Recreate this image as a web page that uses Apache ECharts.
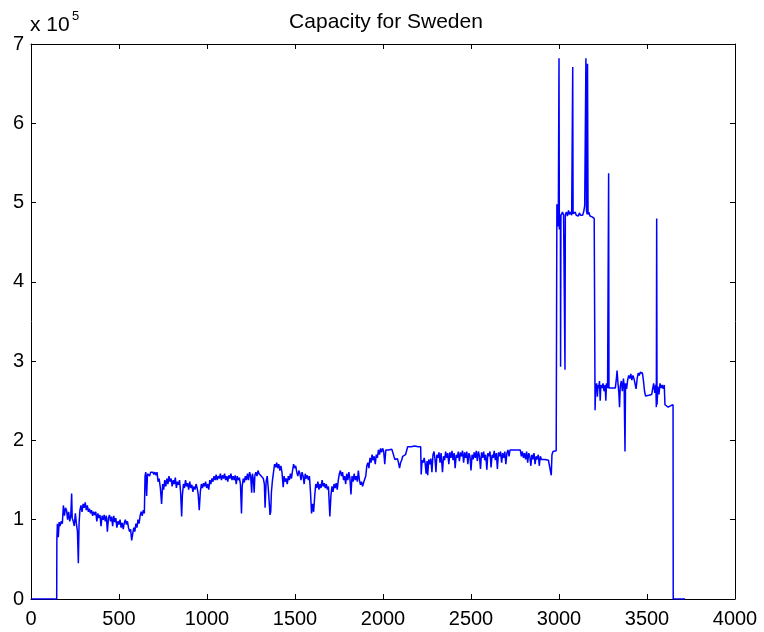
<!DOCTYPE html>
<html>
<head>
<meta charset="utf-8">
<title>Capacity for Sweden</title>
<script src="https://cdn.jsdelivr.net/npm/echarts@6/dist/echarts.min.js"></script>
<style>
  html, body { margin: 0; padding: 0; background: #ffffff; }
  #chart { width: 764px; height: 632px; }
</style>
</head>
<body>
<div id="chart"></div>
<script>
// Capacity samples, values in units of 10^5, as [sample index, capacity] pairs.
const rampUp = [
  [1,0],[146,0],[147,0.75],[150,0.95],[155,0.78],[160,0.97],[165,0.92],[172,0.98],[178,0.95],[184,1.18],
  [190,1.05],[196,1.15],[202,1.12],[208,1.0],[214,1.1],[220,0.98],[226,1.05],[231,1.33],[234,1.02],[240,0.98],
  [246,0.92],[252,1.08],[258,0.95],[264,0.85],[269,0.45],[273,0.95],[278,1.12],[284,1.18],[290,1.1],[296,1.2],
  [302,1.15],[308,1.22],[314,1.12],[320,1.18],[326,1.1],[332,1.14],[338,1.08],[344,1.12],[350,1.05],[356,1.1],
  [362,1.06],[368,1.1],[374,0.98],[380,1.08],[386,1.02],[392,1.06],[398,0.92],[404,1.05],[410,1.0],[416,1.06],
  [422,0.98],[428,1.05],[434,0.85],[440,1.02],[446,1.06],[452,0.98],[458,1.04],[464,0.92],[470,1.05],[476,0.97],
  [482,1.02],[488,0.9],[494,0.98],[500,0.94],[506,1.0],[512,0.9],[518,0.96],[524,0.88],[530,0.96],[536,1.0],
  [542,0.94],[548,0.98],[554,0.9],[560,0.85],[566,0.88],[572,0.74],[578,0.82],[584,0.9],[590,0.85],[596,0.95],
  [602,0.9],[608,1.0],[614,0.95],[620,1.05],[626,1.1],[632,1.05],[638,1.12],[644,1.08]
];

const steadyGrowth = [
  [648,1.55],[652,1.6],[657,1.3],[662,1.58],[668,1.6],[674,1.55],[680,1.6],[686,1.58],[692,1.6],[698,1.57],
  [704,1.6],[710,1.56],[716,1.6],[722,1.48],[728,1.52],[735,1.4],[742,1.2],[748,1.45],[754,1.38],[760,1.5],
  [766,1.42],[772,1.52],[778,1.45],[784,1.55],[790,1.48],[796,1.52],[802,1.42],[808,1.5],[814,1.45],[820,1.53],
  [826,1.4],[832,1.48],[838,1.44],[844,1.5],[850,1.35],[856,1.04],[860,1.3],[866,1.45],[872,1.4],[878,1.5],
  [884,1.42],[890,1.46],[896,1.38],[902,1.48],[908,1.4],[914,1.44],[920,1.35],[926,1.42],[932,1.38],[938,1.45],
  [944,1.4],[950,1.32],[956,1.12],[962,1.35],[968,1.45],[974,1.4],[980,1.46],[986,1.42],[992,1.48],[998,1.4],
  [1004,1.45],[1010,1.38],[1016,1.5],[1022,1.45],[1028,1.52],[1034,1.48],[1040,1.55],[1046,1.5],[1052,1.57],[1058,1.5],
  [1064,1.55],[1070,1.52],[1076,1.58],[1082,1.5],[1088,1.56],[1094,1.52],[1100,1.58],[1106,1.5],[1112,1.55],[1118,1.48],
  [1124,1.56],[1130,1.52],[1136,1.58],[1142,1.5],[1148,1.55],[1154,1.5],[1160,1.56],[1166,1.45],[1172,1.55],[1178,1.5],
  [1184,1.53],[1190,1.45],[1196,1.08],[1200,1.42],[1206,1.52],[1212,1.47],[1218,1.55],[1224,1.5],[1230,1.58],[1236,1.5],
  [1242,1.6],[1248,1.55],[1254,1.34],[1258,1.58],[1264,1.5],[1268,1.34],[1272,1.56],[1278,1.6],[1284,1.55],[1290,1.62],
  [1296,1.58],[1302,1.6],[1308,1.55],[1314,1.57],[1320,1.52],[1326,1.45],[1330,1.15],[1336,1.48],[1342,1.55],[1348,1.4],
  [1354,1.2],[1358,1.06],[1362,1.1],[1366,1.35],[1372,1.5],[1378,1.6],[1384,1.7],[1390,1.66],[1396,1.72],[1402,1.65],
  [1408,1.7],[1414,1.62],[1420,1.68],[1426,1.6],[1433,1.41],[1438,1.55],[1444,1.48],[1450,1.52],[1456,1.45],[1462,1.55],
  [1468,1.5],[1474,1.58],[1480,1.52],[1486,1.62],[1492,1.7],[1498,1.65],[1504,1.68],[1510,1.6],[1516,1.55],[1522,1.62],
  [1528,1.58],[1534,1.5],[1540,1.6],[1546,1.55],[1552,1.45],[1558,1.58],[1564,1.52],[1570,1.56],[1576,1.5],[1582,1.55],
  [1588,1.35],[1594,1.08],[1600,1.2],[1606,1.1],[1612,1.3],[1618,1.45],[1624,1.4],[1630,1.48],[1636,1.38],[1642,1.45],
  [1648,1.4],[1654,1.5],[1660,1.42],[1666,1.46],[1672,1.4],[1678,1.45],[1684,1.38],[1690,1.42],[1698,1.04],[1704,1.3],
  [1710,1.42],[1716,1.35],[1722,1.45],[1728,1.4],[1734,1.46],[1740,1.38],[1746,1.5],[1752,1.58],[1758,1.62],[1764,1.55],
  [1770,1.6],[1776,1.5],[1782,1.55],[1788,1.45],[1794,1.58],[1800,1.5],[1806,1.6],[1812,1.52],[1818,1.32],[1824,1.55],
  [1830,1.48],[1836,1.58],[1842,1.5],[1848,1.55],[1854,1.48],[1860,1.62],[1866,1.5],[1872,1.44],[1878,1.48],[1884,1.42],
  [1890,1.47],[1896,1.45],[1902,1.55],[1908,1.68],[1914,1.72],[1920,1.65],[1926,1.78],[1932,1.72],[1938,1.82],[1944,1.75],
  [1950,1.8],[1956,1.7],[1962,1.82],[1968,1.78],[1974,1.88],[1980,1.82],[1986,1.9],[1992,1.85],[1998,1.9],[2004,1.86],
  [2010,1.7],[2016,1.88],[2022,1.9],[2030,1.88],[2040,1.9],[2050,1.89],[2058,1.9],[2062,1.8],[2068,1.76],[2076,1.75],
  [2082,1.77],[2088,1.72],[2094,1.65],[2100,1.72],[2106,1.75],[2112,1.8],[2120,1.78],[2128,1.82],[2134,1.8],[2140,1.92],
  [2160,1.92],[2180,1.93],[2200,1.92],[2214,1.92]
];

const plateau = [
  [2217,1.57],[2222,1.75],[2228,1.72],[2234,1.78],[2240,1.7],[2245,1.58],[2250,1.74],[2254,1.56],[2260,1.76],[2266,1.7],
  [2272,1.77],[2278,1.6],[2284,1.82],[2290,1.86],[2296,1.75],[2301,1.6],[2306,1.82],[2312,1.78],[2318,1.85],[2324,1.72],
  [2330,1.84],[2338,1.6],[2344,1.8],[2350,1.75],[2356,1.86],[2362,1.78],[2368,1.84],[2374,1.7],[2380,1.85],[2386,1.78],
  [2392,1.87],[2398,1.75],[2404,1.84],[2410,1.65],[2416,1.82],[2422,1.78],[2428,1.86],[2434,1.74],[2440,1.85],[2446,1.8],
  [2452,1.87],[2458,1.72],[2464,1.85],[2470,1.78],[2476,1.86],[2482,1.7],[2488,1.84],[2494,1.8],[2500,1.62],[2506,1.82],
  [2512,1.76],[2518,1.85],[2524,1.78],[2530,1.87],[2536,1.74],[2542,1.86],[2548,1.8],[2554,1.64],[2560,1.85],[2566,1.78],
  [2572,1.86],[2578,1.75],[2584,1.82],[2590,1.63],[2596,1.84],[2602,1.8],[2608,1.86],[2614,1.66],[2620,1.82],[2626,1.78],
  [2632,1.87],[2638,1.75],[2644,1.84],[2650,1.64],[2656,1.85],[2662,1.8],[2668,1.86],[2674,1.72],[2680,1.84],[2686,1.78],
  [2692,1.86],[2698,1.7],[2704,1.84],[2710,1.88],[2716,1.8],[2722,1.88],[2730,1.86],[2740,1.88],[2750,1.87],[2760,1.88],
  [2770,1.86],[2780,1.88],[2786,1.8],[2792,1.86],[2798,1.78],[2804,1.84],[2810,1.76],[2816,1.86],[2822,1.72],[2828,1.84],
  [2834,1.8],[2840,1.68],[2846,1.82],[2852,1.76],[2858,1.84],[2864,1.7],[2870,1.8],[2876,1.76],[2882,1.82],[2888,1.68],
  [2894,1.8],[2900,1.76],[2910,1.75],[2920,1.76],[2930,1.74],[2940,1.75],[2950,1.73],[2956,1.56],[2960,1.82],[2966,1.86],
  [2976,1.86],[2984,1.87]
];

const upgradedLink = [
  [2988,4.98],[2992,4.96],[2996,4.7],[3000,6.82],[3002,4.66],[3005,4.85],[3008,4.78],[3009,2.93],[3011,4.84],[3016,4.82],
  [3020,4.88],[3026,4.84],[3030,4.86],[3034,2.89],[3036,4.85],[3042,4.88],[3048,4.83],[3054,4.9],[3060,4.85],[3066,4.88],
  [3072,4.84],[3078,6.71],[3080,4.86],[3086,4.85],[3092,4.88],[3098,4.84],[3104,4.86],[3110,4.83],[3116,4.87],[3122,4.84],
  [3128,4.86],[3134,4.84],[3140,4.88],[3146,4.96],[3150,4.98],[3153,6.82],[3156,4.9],[3160,4.85],[3162,6.75],[3165,4.85],
  [3170,4.88],[3176,4.83],[3182,4.85],[3188,4.82],[3194,4.84],[3200,4.8],[3204,4.82]
];

const tail = [
  [3205,2.38],[3208,2.65],[3214,2.72],[3218,2.55],[3222,2.7],[3226,2.66],[3230,2.75],[3234,2.5],[3238,2.7],[3244,2.66],
  [3250,2.72],[3256,2.62],[3262,2.7],[3266,2.5],[3270,2.72],[3276,2.66],[3282,5.37],[3284,2.66],[3290,2.67],[3300,2.66],
  [3310,2.67],[3320,2.66],[3326,2.78],[3330,2.88],[3334,2.75],[3340,2.6],[3344,2.42],[3348,2.68],[3354,2.75],[3360,2.62],
  [3366,2.78],[3370,2.7],[3375,1.86],[3378,2.72],[3384,2.65],[3390,2.76],[3396,2.82],[3402,2.78],[3408,2.84],[3414,2.76],
  [3420,2.82],[3426,2.78],[3432,2.8],[3438,2.65],[3444,2.78],[3450,2.85],[3456,2.82],[3462,2.86],[3468,2.84],[3474,2.85],
  [3480,2.75],[3486,2.62],[3492,2.56],[3500,2.55],[3510,2.57],[3520,2.55],[3527,2.58],[3532,2.65],[3538,2.72],[3544,2.6],
  [3550,2.7],[3553,2.42],[3555,4.80],[3557,2.45],[3562,2.68],[3568,2.58],[3574,2.72],[3580,2.66],[3586,2.7],[3592,2.65],
  [3598,2.7],[3602,2.45],[3610,2.43],[3620,2.42],[3630,2.43],[3636,2.44],[3640,2.45],[3648,2.45],[3649,0],[3716,0]
];

const capacityTrace = [].concat(rampUp, steadyGrowth, plateau, upgradedLink, tail);
const scaleExponent = 5;

const chart = echarts.init(document.getElementById('chart'), null, { renderer: 'canvas' });

const FONT = 'Liberation Sans, Arial, Helvetica, sans-serif';
const axisLine = { show: true, onZero: false, lineStyle: { color: '#000000', width: 1 } };
const tickIn = { show: true, inside: true, length: 5, lineStyle: { color: '#000000', width: 1 } };
const tickLabel = { color: '#000000', fontFamily: FONT, fontSize: 20, formatter: (v) => String(v) };

chart.setOption({
  animation: false,
  backgroundColor: '#ffffff',
  title: {
    text: 'Capacity for Sweden',
    left: 381,
    top: 7,
    textAlign: 'center',
    textStyle: { color: '#000000', fontFamily: FONT, fontSize: 21, fontWeight: 'normal' }
  },
  graphic: [
    { type: 'text', left: 30, top: 15, style: { text: 'x 10', fill: '#000000', font: '21px ' + FONT } },
    { type: 'text', left: 72, top: 10, style: { text: String(scaleExponent), fill: '#000000', font: '13px ' + FONT } }
  ],
  grid: { left: 31, right: 29, top: 44, bottom: 33, containLabel: false },
  xAxis: [
    {
      type: 'value', min: 0, max: 4000, interval: 500, position: 'bottom',
      axisLine: axisLine, axisTick: tickIn, splitLine: { show: false },
      axisLabel: Object.assign({ margin: 10 }, tickLabel)
    },
    {
      type: 'value', min: 0, max: 4000, interval: 500, position: 'top',
      axisLine: axisLine, axisTick: tickIn, splitLine: { show: false }, axisLabel: { show: false }
    }
  ],
  yAxis: [
    {
      type: 'value', min: 0, max: 7, interval: 1, position: 'left',
      axisLine: axisLine, axisTick: tickIn, splitLine: { show: false },
      axisLabel: Object.assign({ margin: 7 }, tickLabel)
    },
    {
      type: 'value', min: 0, max: 7, interval: 1, position: 'right',
      axisLine: axisLine, axisTick: tickIn, splitLine: { show: false }, axisLabel: { show: false }
    }
  ],
  series: [{
    type: 'line',
    data: capacityTrace,
    xAxisIndex: 0,
    yAxisIndex: 0,
    showSymbol: false,
    sampling: null,
    clip: true,
    lineStyle: { color: '#0000ff', width: 1.5 },
    emphasis: { disabled: true }
  }]
});
</script>
</body>
</html>
